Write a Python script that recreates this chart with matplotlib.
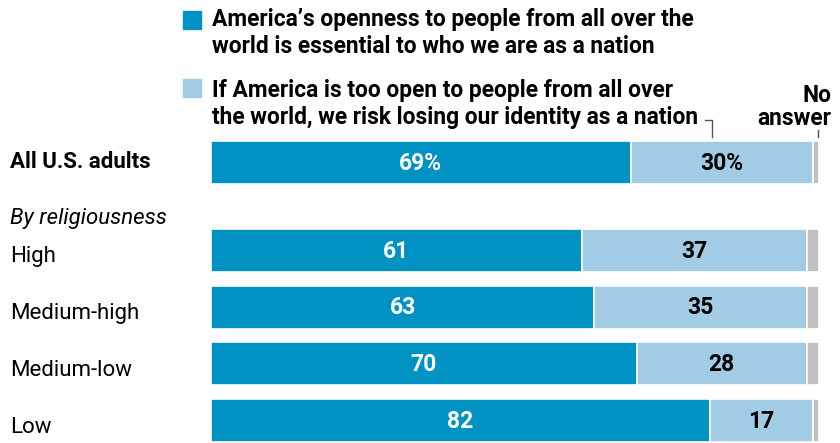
import matplotlib.pyplot as plt
from matplotlib.patches import Rectangle

# Data
groups = ["All U.S. adults", "High", "Medium-high", "Medium-low", "Low"]
essential = [69, 61, 63, 70, 82]
risk = [30, 37, 35, 28, 17]
no_answer = [1, 2, 2, 2, 1]

legend_lines = [
    ["America\u2019s openness to people from all over the",
     "world is essential to who we are as a nation"],
    ["If America is too open to people from all over",
     "the world, we risk losing our identity as a nation"],
]

# Style
DARK = "#0092c2"
LIGHT = "#a2cce6"
GRAY = "#c1c1c1"
W, H = 840, 443
plt.rcParams["font.family"] = ["Roboto", "DejaVu Sans"]

# layout in pixels from the top
row_y = [162.5, 250, 307, 363.5, 420]
label_base = [168, 262, 319, 376, 433]
bar_h = 43


def fy(y):
    return 1 - y / H


fig = plt.figure(figsize=(W / 100, H / 100), dpi=100)
ax = fig.add_axes([211 / W, 0, 608 / W, 1])
ax.set_xlim(0, 100)
ax.set_ylim(H, 0)
ax.axis("off")

for i, g in enumerate(groups):
    y = row_y[i]
    kw = dict(height=bar_h, edgecolor="white", linewidth=1.2)
    ax.barh(y, essential[i], color=DARK, **kw)
    ax.barh(y, risk[i], left=essential[i], color=LIGHT, **kw)
    ax.barh(y, no_answer[i], left=essential[i] + risk[i], color=GRAY, **kw)
    suffix = "%" if i == 0 else ""
    ax.text(essential[i] / 2, y + 1, f"{essential[i]}{suffix}", color="white", fontsize=16.5,
            fontweight="bold", ha="center", va="center")
    ax.text(essential[i] + risk[i] / 2, y + 1, f"{risk[i]}{suffix}", color="black", fontsize=16.5,
            fontweight="bold", ha="center", va="center")
    fig.text(10 / W, fy(label_base[i]), g, fontsize=16, ha="left", va="baseline",
             fontweight="bold" if i == 0 else "normal")

fig.text(10 / W, fy(224), "By religiousness", fontsize=16, style="italic",
         ha="left", va="baseline")

# legend
for k, col in enumerate([DARK, LIGHT]):
    sq_top = 11 if k == 0 else 79
    fig.patches.append(Rectangle((183 / W, fy(sq_top + 18)), 18 / W, 18 / H,
                                 transform=fig.transFigure, color=col))
    base = 26 if k == 0 else 97
    for j, line in enumerate(legend_lines[k]):
        fig.text(212 / W, fy(base + 27 * j), line, fontsize=16.4, fontweight="bold",
                 ha="left", va="baseline")

# No answer label
fig.text(831 / W, fy(102), "No", fontsize=16.4, fontweight="bold", ha="right", va="baseline")
fig.text(831 / W, fy(125), "answer", fontsize=16.4, fontweight="bold", ha="right", va="baseline")

# leader lines
fig.lines.append(plt.Line2D([705 / W, 712 / W, 712 / W], [fy(120), fy(120), fy(137)],
                            transform=fig.transFigure, color="#555555", lw=1))
fig.lines.append(plt.Line2D([818 / W, 818 / W], [fy(130), fy(137)],
                            transform=fig.transFigure, color="#555555", lw=1))

fig.savefig("out.png", dpi=100)
